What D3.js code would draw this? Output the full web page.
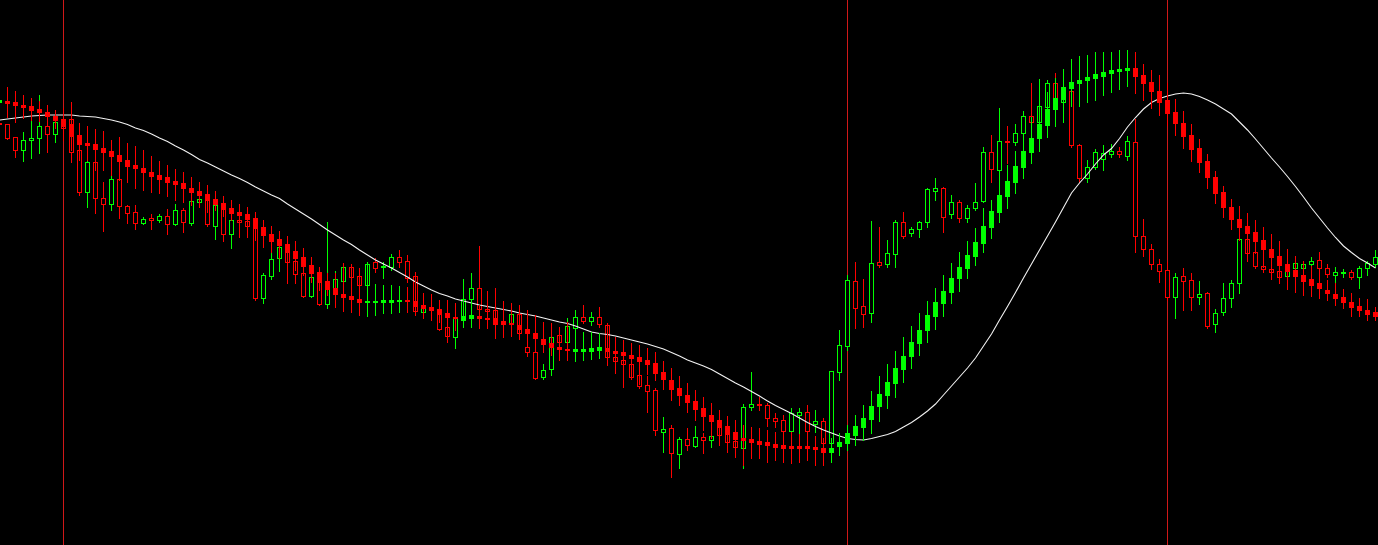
<!DOCTYPE html>
<html>
<head>
<meta charset="utf-8">
<script src="https://cdn.jsdelivr.net/npm/d3@7"></script>
<style>
html,body{margin:0;padding:0;background:#000;overflow:hidden}
svg{display:block}
</style>
</head>
<body>
<svg id="chart" width="1378" height="545"></svg>
<script>
// ---- price candles (hollow) ----
const open = [
877,876,863,850,860,862,874,866,874,881,
850,808,838,802,796,821,794,788,777,782,
780,784,776,790,777,798,806,774,797,766,
780,779,782,702,724,742,755,739,727,704,
728,696,711,719,733,724,715,738,733,733,
743,739,724,688,692,691,673,663,680,701,
712,691,690,678,677,686,653,648,623,631,
665,658,672,683,679,683,675,643,640,636,
625,615,610,568,572,546,561,554,563,560,
580,574,559,552,593,596,595,582,580,569,
585,588,576,579,557,628,654,719,694,687,
738,736,746,778,767,771,778,809,812,786,
798,782,792,799,848,830,859,858,867,884,
878,893,917,898,909,855,822,833,841,846,
849,844,858,764,751,736,730,703,724,720,
703,707,676,688,702,717,761,748,734,731,
729,724,732,732,736,740,732,725,727,728,
723,732,736];
const high = [
879,876,863,868,880,905,880,882,876,898,
860,850,850,818,826,830,795,795,783,786,
786,791,796,792,800,804,810,797,800,782,
782,781,785,727,747,755,758,742,730,729,
732,778,729,737,736,730,738,742,738,746,
750,745,728,700,700,695,682,697,721,727,
754,705,712,695,695,694,657,652,636,677,
670,682,690,695,688,693,677,663,660,640,
630,624,612,583,575,563,572,574,567,567,
583,584,568,596,628,603,597,587,585,592,
592,595,590,582,629,670,725,738,721,779,
773,760,780,788,773,779,812,822,813,805,
800,795,817,853,865,892,874,876,889,917,
921,920,927,931,915,856,840,851,855,856,
853,864,881,781,756,741,738,727,732,727,
719,708,691,717,720,762,764,755,743,733,
734,751,744,739,743,748,736,733,731,730,
734,739,750];
const low = [
874,861,843,839,842,847,848,858,870,838,
805,793,787,769,790,782,777,771,776,771,
778,766,775,768,775,795,774,761,759,752,
775,763,700,697,721,729,735,717,703,703,
695,692,705,715,718,710,710,728,722,730,
733,718,687,684,682,670,660,652,675,697,
688,685,673,670,672,665,644,621,621,625,
655,655,668,677,675,673,640,627,613,621,
612,588,565,548,523,532,550,553,547,553,
562,555,543,532,590,590,574,573,566,566,
567,564,568,554,548,620,650,672,673,678,
733,733,733,762,764,763,773,800,768,782,
778,778,790,798,818,828,837,855,863,876,
876,890,899,895,853,818,818,831,830,843,
843,840,748,744,731,718,700,682,690,690,
696,672,668,685,693,707,744,732,728,721,
720,722,730,730,733,727,723,718,723,721,
712,725,733];
const close = [
876,862,850,860,862,874,866,878,872,848,
808,838,802,796,821,794,787,777,781,780,
784,776,790,778,799,801,776,795,766,780,
778,774,702,725,741,753,738,726,704,723,
696,712,721,733,723,715,736,732,734,743,
738,722,689,694,691,671,664,682,701,712,
691,689,676,677,686,667,648,622,630,663,
658,674,683,679,683,676,643,639,636,623,
614,609,570,571,547,561,555,563,560,564,
565,558,553,593,596,595,582,579,569,587,
588,569,579,557,629,655,720,692,686,737,
735,747,778,764,771,778,811,812,783,798,
782,792,798,848,831,859,858,867,884,878,
894,917,902,913,855,822,833,848,847,849,
846,859,764,751,736,729,703,723,719,703,
706,674,687,702,717,761,747,734,731,728,
723,736,737,736,739,732,726,728,728,723,
732,737,743];

// ---- smoothed indicator candles (filled) ----
const haOpen = [
898,899,898,895,894,891,888,884,881,876,
865,857,856,852,849,845,840,835,832,828,
825,823,819,817,812,809,806,801,797,792,
788,786,782,773,766,761,756,749,743,735,
728,719,712,706,704,701,698,698,698,698,
699,700,699,695,693,691,687,683,680,682,
684,682,682,679,677,675,671,667,661,657,
653,651,649,649,649,650,652,649,648,645,
643,640,637,628,620,612,605,599,592,585,
580,574,568,562,561,559,558,556,555,554,
554,554,553,552,548,554,557,565,573,581,
594,605,617,631,644,657,670,684,697,708,
722,732,744,757,773,788,804,818,833,848,
862,875,891,901,912,917,920,922,924,927,
929,930,932,925,918,909,900,888,877,865,
852,839,823,808,793,781,774,768,760,751,
744,736,730,725,721,717,710,706,703,698,
694,690,688];
const haClose = [
900,897,895,893,890,888,884,880,874,864,
856,855,851,848,844,839,834,832,828,824,
821,818,816,812,808,805,800,796,791,787,
785,781,772,765,759,755,748,742,734,727,
718,711,706,703,701,698,699,699,700,700,
700,699,694,692,690,686,683,682,684,685,
682,681,676,676,676,671,667,662,656,653,
651,650,651,651,652,653,649,647,645,642,
639,636,627,621,611,605,598,591,584,579,
573,566,561,560,558,556,555,553,552,552,
552,552,551,548,552,558,567,574,582,594,
606,618,632,644,658,670,685,698,709,722,
733,745,758,774,789,805,819,834,849,862,
876,891,902,913,918,920,923,926,928,930,
931,932,924,917,909,898,887,877,864,851,
838,823,807,793,781,773,767,759,751,743,
735,729,724,719,715,712,707,702,698,693,
690,686,684];
const haHigh = [
904,913,909,905,902,899,895,890,892,898,
877,874,871,869,860,863,857,854,850,844,
839,835,831,828,823,818,815,809,804,800,
796,793,788,780,774,769,764,759,752,743,
733,727,727,737,736,732,738,716,715,715,
714,713,725,707,706,700,700,697,721,700,
695,709,712,699,697,695,690,685,678,677,
673,678,668,668,668,667,677,663,660,657,
655,652,648,639,632,624,617,610,603,597,
590,584,580,575,573,572,570,568,567,568,
566,565,564,562,562,567,575,585,595,609,
624,636,649,663,674,687,699,712,725,737,
748,759,772,792,800,828,835,849,866,883,
895,908,922,931,941,944,945,948,948,948,
950,950,948,936,930,925,917,901,889,876,
861,846,829,814,801,794,787,780,773,766,
759,751,744,739,734,727,720,717,711,707,
702,701,693];
const haLow = [
894,883,878,882,880,879,875,872,860,850,
840,840,830,830,825,820,818,812,810,808,
807,804,800,798,795,793,788,790,784,780,
763,770,760,753,748,742,717,730,725,718,
710,705,693,689,688,685,684,685,687,687,
688,688,685,682,680,678,658,670,673,673,
672,672,662,663,664,661,657,650,648,645,
640,640,639,640,641,642,635,627,613,624,
616,626,620,611,600,595,588,580,570,562,
555,548,543,535,542,542,538,540,538,537,
538,540,535,535,538,545,550,555,560,567,
579,592,603,618,632,645,658,671,684,697,
709,722,735,748,762,778,792,807,822,837,
849,863,874,878,894,894,898,900,905,908,
911,914,907,900,892,885,875,865,852,839,
828,812,797,783,771,760,739,747,733,722,
717,711,708,705,704,702,700,695,692,684,
684,680,680];

// ---- smooth moving average (white line) ----
const maLine = [
880,881,882,883,884,884.5,885,885,885,885,
884,883.5,883,881.5,880,878,875.5,872,869.5,866,
862,858.5,854,850,845.5,840.5,837,833,829,825,
821.5,817.5,813,809,805,801.5,796,791,786,781,
775.5,770,765,760,755.5,750,745,740,736,732,
727.5,723,718,714,710,706.5,704,701,699,697,
695,693.5,692,690.5,689,687,685.5,684,682,680,
678,676.5,674,671,668,666.5,665.5,664,662,660,
658,656,653.5,651,647.5,644,640,637,634,630.5,
626,621.5,617,613,608.5,604,599,594.5,590.5,586.5,
582,577.5,573.5,570,567,564,561.5,560.5,560,561.5,
563.5,565.5,568.5,573,577.5,583,589,596,605,614,
623,632,642,654,666,680,693.5,707.5,722,736,
750,764,778,792.5,807,817,826,836,845,851.5,
861.5,873,882.5,891,897.5,901.5,904,906,907,906,
903.5,900,896,891,886,878,870,861,851.5,842,
833,823.5,813.5,803,792,782,772,762.5,754,747.5,
741.5,737,732];

// bar indices carrying a period separator
const separators = [8, 106, 146];

const UP = '#00ff00', DOWN = '#ff0000';
const W = 1378, H = 545;
const n = open.length;
const idx = d3.range(n);

const x = d3.scaleLinear().domain([0, 172]).range([-1, 1375]);
const y = d3.scaleLinear().domain([455, 1000]).range([H, 0]);

const svg = d3.select('#chart');
svg.append('rect').attr('width', W).attr('height', H).attr('fill', '#000');

// separators
svg.append('g').selectAll('line').data(separators).join('line')
  .attr('x1', d => x(d) + 0.5).attr('x2', d => x(d) + 0.5)
  .attr('y1', 0).attr('y2', H)
  .attr('stroke', '#d01818').attr('stroke-width', 1)
  .attr('shape-rendering', 'crispEdges');

// price candles
const cg = svg.append('g').attr('shape-rendering', 'crispEdges');
cg.selectAll('line').data(idx).join('line')
  .attr('x1', i => x(i) + 0.5).attr('x2', i => x(i) + 0.5)
  .attr('y1', i => y(high[i])).attr('y2', i => y(low[i]) + 1)
  .attr('stroke', i => close[i] >= open[i] ? UP : DOWN);
cg.selectAll('path').data(idx).join('path')
  .attr('d', i => {
    const t = Math.round(y(Math.max(open[i], close[i])));
    const b = Math.round(y(Math.min(open[i], close[i])));
    const cx = x(i);
    return `M${cx - 1.5},${t + 0.5}h4v${b - t}h-4Z`;
  })
  .attr('fill', '#000')
  .attr('stroke', i => close[i] >= open[i] ? UP : DOWN)
  .attr('stroke-width', 1);

// white smooth line
svg.append('path')
  .datum(idx)
  .attr('d', d3.line().x(i => x(i) + 0.5).y(i => y(maLine[i])))
  .attr('fill', 'none')
  .attr('stroke', '#f2f2f2')
  .attr('stroke-width', 1.1);

// smoothed indicator candles
const hg = svg.append('g').attr('shape-rendering', 'crispEdges');
hg.selectAll('line').data(idx).join('line')
  .attr('x1', i => x(i) + 0.5).attr('x2', i => x(i) + 0.5)
  .attr('y1', i => y(haHigh[i])).attr('y2', i => y(haLow[i]) + 1)
  .attr('stroke', i => haClose[i] >= haOpen[i] ? UP : DOWN);
hg.selectAll('rect').data(idx).join('rect')
  .attr('x', i => x(i) - 2)
  .attr('y', i => y(Math.max(haOpen[i], haClose[i])))
  .attr('width', 5)
  .attr('height', i => y(Math.min(haOpen[i], haClose[i])) - y(Math.max(haOpen[i], haClose[i])) + 1)
  .attr('fill', i => haClose[i] >= haOpen[i] ? UP : DOWN);
</script>
</body>
</html>
